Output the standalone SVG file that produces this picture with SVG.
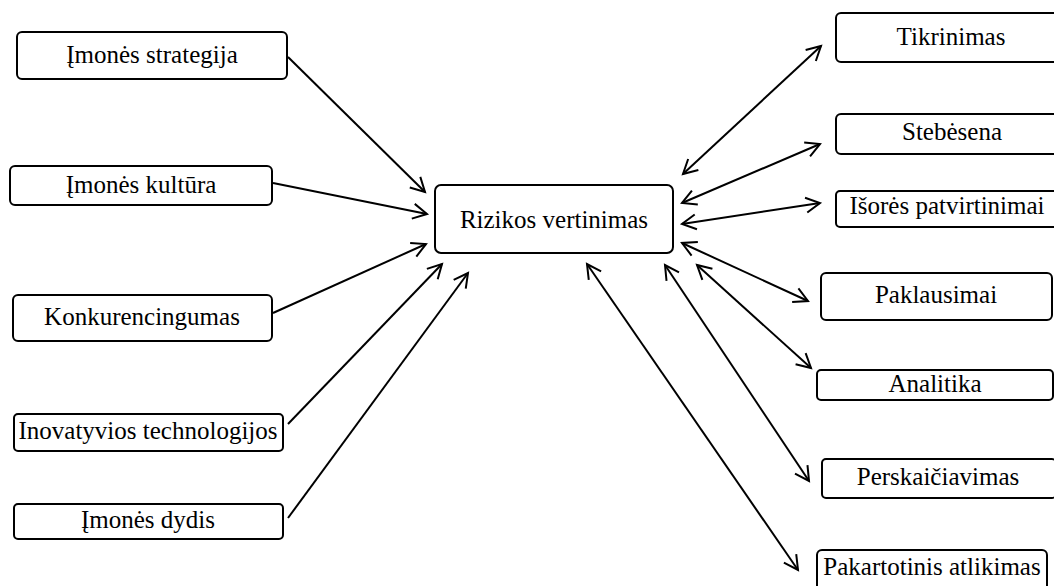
<svg xmlns="http://www.w3.org/2000/svg" width="1054" height="586" viewBox="0 0 1054 586">
  <style>
    .box { fill: #ffffff; stroke: #000000; stroke-width: 2; }
    .label { font-family: "Liberation Serif", "Times New Roman", serif; font-size: 25px; fill: #000000; text-anchor: middle; }
    .link { fill: none; stroke: #000000; stroke-width: 2; }
    .one { marker-end: url(#head); }
    .two { marker-start: url(#head); marker-end: url(#head); }
  </style>
  <defs>
    <marker id="head" markerUnits="userSpaceOnUse" markerWidth="20" markerHeight="20" refX="0" refY="0" viewBox="-16 -10 20 20" orient="auto-start-reverse" overflow="visible">
      <path d="M-14,-7.5 L0,0 L-14,7.5" fill="none" stroke="#000000" stroke-width="2"/>
    </marker>
  </defs>
  <rect width="1054" height="586" fill="#ffffff"/>

  <!-- connectors -->
  <g id="connectors">
    <line class="link one" x1="288" y1="57" x2="425" y2="192"/>
    <line class="link one" x1="273" y1="183" x2="427" y2="214"/>
    <line class="link one" x1="273" y1="313" x2="426" y2="244"/>
    <line class="link one" x1="288" y1="424" x2="442" y2="264"/>
    <line class="link one" x1="288" y1="518" x2="468" y2="273"/>
    <line class="link two" x1="683" y1="174" x2="821" y2="46"/>
    <line class="link two" x1="682" y1="203" x2="820" y2="144"/>
    <line class="link two" x1="682" y1="224" x2="820" y2="203"/>
    <line class="link two" x1="682" y1="243" x2="808" y2="301"/>
    <line class="link two" x1="697" y1="265" x2="811" y2="368"/>
    <line class="link two" x1="665" y1="265" x2="809" y2="481"/>
    <line class="link two" x1="587" y1="264" x2="798" y2="570"/>
  </g>

  <!-- central node -->
  <g id="rizikos-vertinimas">
    <rect class="box" x="435" y="185" width="238" height="68" rx="6"/>
    <text class="label" x="554" y="228">Rizikos vertinimas</text>
  </g>

  <!-- factors on the left -->
  <g id="imones-strategija">
    <rect class="box" x="17" y="32" width="270" height="47" rx="5"/>
    <text class="label" x="152" y="63">Įmonės strategija</text>
  </g>
  <g id="imones-kultura">
    <rect class="box" x="10" y="166" width="262" height="39" rx="5"/>
    <text class="label" x="141" y="193">Įmonės kultūra</text>
  </g>
  <g id="konkurencingumas">
    <rect class="box" x="13" y="295" width="259" height="46" rx="5"/>
    <text class="label" x="142" y="325">Konkurencingumas</text>
  </g>
  <g id="inovatyvios-technologijos">
    <rect class="box" x="14" y="414" width="269" height="37" rx="4"/>
    <text class="label" x="148" y="439">Inovatyvios technologijos</text>
  </g>
  <g id="imones-dydis">
    <rect class="box" x="14" y="504" width="269" height="35" rx="4"/>
    <text class="label" x="148" y="528">Įmonės dydis</text>
  </g>

  <!-- procedures on the right -->
  <g id="tikrinimas">
    <rect class="box" x="836" y="13" width="230" height="49" rx="5"/>
    <text class="label" x="951" y="45">Tikrinimas</text>
  </g>
  <g id="stebesena">
    <rect class="box" x="836" y="114" width="230" height="40" rx="5"/>
    <text class="label" x="952" y="140">Stebėsena</text>
  </g>
  <g id="isores-patvirtinimai">
    <rect class="box" x="836" y="191" width="224" height="36" rx="4"/>
    <text class="label" x="947" y="214">Išorės patvirtinimai</text>
  </g>
  <g id="paklausimai">
    <rect class="box" x="821" y="273" width="231" height="47" rx="5"/>
    <text class="label" x="936" y="303">Paklausimai</text>
  </g>
  <g id="analitika">
    <rect class="box" x="817" y="370" width="236" height="30" rx="4"/>
    <text class="label" x="935" y="392">Analitika</text>
  </g>
  <g id="perskaiciavimas">
    <rect class="box" x="822" y="459" width="234" height="39" rx="4"/>
    <text class="label" x="938" y="485">Perskaičiavimas</text>
  </g>
  <g id="pakartotinis-atlikimas">
    <rect class="box" x="817" y="550" width="230" height="48" rx="5"/>
    <text class="label" x="932" y="575">Pakartotinis atlikimas</text>
  </g>
</svg>
